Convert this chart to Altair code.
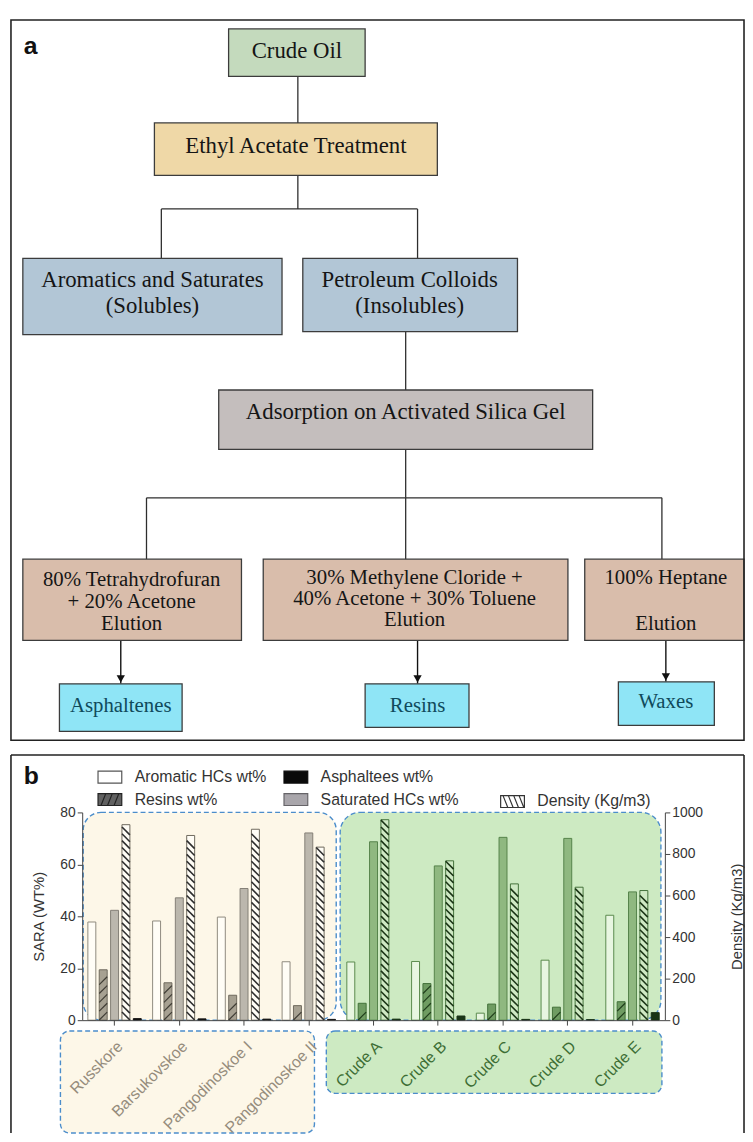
import altair as alt
import pandas as pd

# ======================= Panel a : flowchart =======================
box_kind = ["start", "treat", "fraction", "fraction", "adsorb", "eluent", "eluent", "eluent",
            "product", "product", "product"]
box_x1 = [230, 155, 22, 305, 220, 22, 265, 590, 59, 368, 624]
box_x2 = [368, 441, 284, 522, 598, 243, 573, 751, 183, 473, 721]
box_y1 = [22, 117, 254, 254, 387, 558, 558, 558, 684, 684, 682]
box_y2 = [70, 170, 331, 328, 447, 640, 640, 640, 732, 728, 726]
kind_order = ["start", "treat", "fraction", "adsorb", "eluent", "product"]
kind_colors = ["#c4dabd", "#efd8a7", "#b2c6d6", "#c4bebd", "#d9bdab", "#8fe5f6"]

big_text = ["Crude Oil", "Ethyl Acetate Treatment", "Aromatics and Saturates", "(Solubles)",
            "Petroleum Colloids", "(Insolubles)", "Adsorption on Activated Silica Gel"]
big_x = [299, 298, 153, 153, 413, 413, 409]
big_y = [51, 147, 283, 309, 283, 309, 416]

small_text = ["80% Tetrahydrofuran", "+ 20% Acetone", "Elution",
              "30% Methylene Cloride +", "40% Acetone + 30% Toluene", "Elution",
              "100% Heptane", "Elution"]
small_x = [132, 132, 132, 418, 418, 418, 672, 672]
small_y = [585, 607, 630, 583, 604, 626, 583, 630]

product_text = ["Asphaltenes", "Resins", "Waxes"]
product_x = [121, 421, 672]
product_y = [712, 712, 708]

line_x1 = [300, 300, 162, 162, 421, 409, 409, 147, 147, 409, 668]
line_y1 = [70, 170, 204, 204, 204, 328, 447, 496, 496, 496, 496]
line_x2 = [300, 300, 421, 162, 421, 409, 409, 668, 147, 409, 668]
line_y2 = [117, 204, 204, 254, 254, 387, 496, 496, 558, 558, 558]

arrow_x = [121, 421, 672]
arrow_y1 = [640, 640, 640]
arrow_y2 = [684, 684, 682]

# ======================= Panel b : SARA bars =======================
crudes = ["Russkore", "Barsukovskoe", "Pangodinoskoe I", "Pangodinoskoe II",
          "Crude A", "Crude B", "Crude C", "Crude D", "Crude E"]
crude_group = ["L", "L", "L", "L", "R", "R", "R", "R", "R"]
aromatic = [37.8, 38.2, 39.7, 22.5, 22.4, 22.6, 2.7, 23.1, 40.4]
resins = [19.4, 14.4, 9.6, 5.6, 6.5, 14.1, 6.2, 5.0, 7.1]
saturated = [42.3, 47.1, 50.7, 72.1, 68.7, 59.4, 70.4, 70.0, 49.4]
asphaltenes = [0.6, 0.5, 0.4, 0.3, 0.4, 1.6, 0.3, 0.2, 2.9]
density = [941, 889, 919, 833, 965, 767, 656, 640, 624]

S_ARO = "Aromatic HCs wt%"
S_RES = "Resins wt%"
S_SAT = "Saturated HCs wt%"
S_ASP = "Asphaltees wt%"
S_DEN = "Density (Kg/m3)"
offset_order = [S_ARO, S_RES, S_SAT, S_DEN, S_ASP]

region_start = ["Russkore", "Crude A"]
region_end = ["Pangodinoskoe II", "Crude E"]
region_group = ["L", "R"]

# ----------------------------------------------------------------------------
one = pd.DataFrame({"k": [0]})

# ---------- chart a (its plot origin is aligned with panel b's plot origin) ----------
AX0 = 82            # page x of the shared plot origin
AW, AH = 669, 728
xa = alt.Scale(domain=[AX0, AX0 + AW], nice=False, zero=False)
ya = alt.Scale(domain=[13, 13 + AH], nice=False, zero=False, reverse=True)
serif = "Liberation Serif"

boxes_df = pd.DataFrame({"x1": box_x1, "x2": box_x2, "y1": box_y1, "y2": box_y2, "kind": box_kind})
boxes = alt.Chart(boxes_df).mark_rect(stroke="#3c3c3c", strokeWidth=1.3).encode(
    x=alt.X("x1:Q", scale=xa, axis=None), x2="x2:Q",
    y=alt.Y("y1:Q", scale=ya, axis=None), y2="y2:Q",
    fill=alt.Fill("kind:N", scale=alt.Scale(domain=kind_order, range=kind_colors), legend=None),
)

lines_df = pd.DataFrame({"x1": line_x1, "y1": line_y1, "x2": line_x2, "y2": line_y2})
lines = alt.Chart(lines_df).mark_rule(color="#2e2e2e", strokeWidth=1.3).encode(
    x=alt.X("x1:Q", scale=xa, axis=None), x2="x2:Q",
    y=alt.Y("y1:Q", scale=ya, axis=None), y2="y2:Q",
)

arrows_df = pd.DataFrame({"x": arrow_x, "y1": arrow_y1, "y2": arrow_y2})
arrow_lines = alt.Chart(arrows_df).mark_rule(color="#111", strokeWidth=1.4).encode(
    x=alt.X("x:Q", scale=xa, axis=None),
    y=alt.Y("y1:Q", scale=ya, axis=None), y2="y2:Q",
)
arrow_heads = alt.Chart(arrows_df).mark_point(
    shape="triangle-down", filled=True, size=70, color="#111", opacity=1, yOffset=-5
).encode(
    x=alt.X("x:Q", scale=xa, axis=None),
    y=alt.Y("y2:Q", scale=ya, axis=None),
)


def text_layer(texts, xs, ys, size, color):
    df = pd.DataFrame({"t": texts, "x": xs, "y": ys})
    return alt.Chart(df).mark_text(
        font=serif, fontSize=size, color=color, align="center", baseline="alphabetic"
    ).encode(
        x=alt.X("x:Q", scale=xa, axis=None),
        y=alt.Y("y:Q", scale=ya, axis=None),
        text="t:N",
    )


frame_a = alt.Chart(one).mark_rect(fillOpacity=0, stroke="#222", strokeWidth=1.6).encode(
    x=alt.value(-72), x2=alt.value(AW), y=alt.value(0), y2=alt.value(AH)
)
label_a = alt.Chart(one).mark_text(
    text="a", font="Liberation Sans", fontSize=25, fontWeight="bold", align="left",
    baseline="alphabetic", color="#111"
).encode(x=alt.value(-59), y=alt.value(34))

chart_a = alt.layer(
    lines, arrow_lines, arrow_heads, boxes,
    text_layer(big_text, big_x, big_y, 23, "#151515"),
    text_layer(small_text, small_x, small_y, 21, "#151515"),
    text_layer(product_text, product_x, product_y, 21, "#0f4a5b"),
    frame_a, label_a,
).properties(width=AW, height=AH)

# ---------- chart b ----------
W, H = 589, 210

rows = []
for i, c in enumerate(crudes):
    for s, vals in [(S_ARO, aromatic), (S_RES, resins), (S_SAT, saturated), (S_ASP, asphaltenes)]:
        rows.append({"crude": c, "grp": crude_group[i], "series": s, "value": vals[i],
                     "key": s + "|" + crude_group[i]})
sara_df = pd.DataFrame(rows)
dens_df = pd.DataFrame({"crude": crudes, "grp": crude_group, "series": [S_DEN] * len(crudes),
                        "value": density, "key": [S_DEN + "|" + g for g in crude_group]})
reg_df = pd.DataFrame({"start": region_start, "end": region_end, "grp": region_group})

key_domain = [f"{s}|{g}" for g in ("L", "R") for s in offset_order]
fill_range = ["#fffdf6", "#a7a192", "#bbb7ad", "#fffdf6", "#141414",
              "#e8f6e1", "#6f9c62", "#8fb880", "#cfe9c4", "#183416"]
stroke_range = ["#8f8a7e", "#6e695d", "#848076", "#6e695d", "#141414",
                "#5a8a4d", "#43703a", "#55834a", "#43703a", "#183416"]

green_test = "indexof(['Crude A','Crude B','Crude C','Crude D','Crude E'], datum.value) >= 0"
x_scale = alt.Scale(domain=crudes, paddingInner=0, paddingOuter=0)
x_axis = alt.Axis(
    title=None, labelAngle=-45, labelFontSize=16, labelFont="Liberation Sans",
    labelColor={"condition": {"test": green_test, "value": "#3d6e35"}, "value": "#958c7c"},
    tickSize=5, tickColor="#444", domainColor="#444", labelPadding=13, labelLimit=220, zindex=1,
)
xo = alt.XOffset("series:N", scale=alt.Scale(domain=offset_order, paddingInner=0.3, paddingOuter=0.5))


def X():
    return alt.X("crude:N", scale=x_scale, axis=x_axis)


y_sara = alt.Scale(domain=[0, 80], nice=False)
y_dens = alt.Scale(domain=[0, 1000], nice=False)
y_left = alt.Axis(
    title="SARA (WT%)", values=[0, 20, 40, 60, 80], grid=False, tickSize=5, tickColor="#444",
    domainColor="#444", labelFontSize=14, labelColor="#333", titleFontSize=15,
    titleFontWeight="normal", titleColor="#333", titlePadding=14, zindex=1,
)
y_right = alt.Axis(
    orient="right", title="Density (Kg/m3)", values=[0, 200, 400, 600, 800, 1000], format="d",
    grid=False, tickSize=5, tickColor="#444", domainColor="#444", labelFontSize=14,
    labelColor="#333", titleFontSize=15, titleFontWeight="normal", titleColor="#333",
    titleAngle=270, titlePadding=42, zindex=1,
)

# frame of panel b (bottom edge is cut off by the page)
frame_top = alt.Chart(one).mark_rule(color="#222", strokeWidth=1.6).encode(
    x=alt.value(-72), x2=alt.value(669), y=alt.value(-58))
frame_left = alt.Chart(one).mark_rule(color="#222", strokeWidth=1.6).encode(
    x=alt.value(-72), y=alt.value(-58), y2=alt.value(324))
frame_right = alt.Chart(one).mark_rule(color="#222", strokeWidth=1.6).encode(
    x=alt.value(669), y=alt.value(-58), y2=alt.value(324))
label_b = alt.Chart(one).mark_text(
    text="b", font="Liberation Sans", fontSize=25, fontWeight="bold", align="left",
    baseline="alphabetic", color="#111"
).encode(x=alt.value(-59), y=alt.value(-29))

DASH = dict(stroke="#4b8dcb", strokeDash=[5, 3], strokeWidth=1.4)


def region(grp, fill, xo_, x2o_, radius, y_top=None, y_bot=None):
    base = alt.Chart(reg_df).transform_filter(alt.datum.grp == grp).mark_rect(
        fill=fill, cornerRadius=radius, xOffset=xo_, x2Offset=x2o_, **DASH)
    enc = dict(
        x=alt.X("start:N", scale=x_scale, axis=x_axis, bandPosition=0),
        x2=alt.X2("end:N", bandPosition=1),
    )
    if y_top is None:
        enc["y"] = alt.Y(datum=80, scale=y_sara, axis=y_left)
        enc["y2"] = alt.Y2(datum=0)
    else:
        enc["y"] = alt.value(y_top)
        enc["y2"] = alt.value(y_bot)
    return base.encode(**enc)


reg_plot_L = region("L", "#fdf7e8", 1, -5, 18)
reg_plot_R = region("R", "#cdeac2", -1, -4, 20)
reg_lab_L = region("L", "#fdf7e8", -22, -27, 9, H + 11, H + 114)
reg_lab_R = region("R", "#cdeac2", -15, -3, 9, H + 11, H + 74)

sara_bars = alt.Chart(sara_df).mark_bar(strokeWidth=1).encode(
    x=X(), xOffset=xo,
    y=alt.Y("value:Q", scale=y_sara, axis=y_left),
    fill=alt.Fill("key:N", scale=alt.Scale(domain=key_domain, range=fill_range), legend=None),
    stroke=alt.Stroke("key:N", scale=alt.Scale(domain=key_domain, range=stroke_range), legend=None),
)

resin_hatch = alt.Chart(sara_df).transform_filter(alt.datum.series == S_RES).transform_calculate(
    hy="sequence(1.6, datum.value - 1.5, 3.4)"
).transform_flatten(["hy"]).mark_point(
    shape="M-1,1L1,-1", size=64, filled=False, strokeWidth=1.2, opacity=1
).encode(
    x=X(), xOffset=xo,
    y=alt.Y("hy:Q", scale=y_sara, axis=y_left),
    stroke=alt.Stroke("grp:N", scale=alt.Scale(domain=["L", "R"], range=["#3f3c34", "#1f3d1a"]),
                      legend=None),
)

dens_bars = alt.Chart(dens_df).mark_bar(strokeWidth=1).encode(
    x=X(), xOffset=xo,
    y=alt.Y("value:Q", scale=y_dens, axis=y_right),
    fill=alt.Fill("key:N", scale=alt.Scale(domain=key_domain, range=fill_range), legend=None),
    stroke=alt.Stroke("key:N", scale=alt.Scale(domain=key_domain, range=stroke_range), legend=None),
)

dens_hatch = alt.Chart(dens_df).transform_calculate(
    hy="sequence(20, datum.value - 19, 33)"
).transform_flatten(["hy"]).mark_point(
    shape="M-1,-1L1,1", size=64, filled=False, strokeWidth=1.6, opacity=1
).encode(
    x=X(), xOffset=xo,
    y=alt.Y("hy:Q", scale=y_dens, axis=y_right),
    stroke=alt.Stroke("grp:N", scale=alt.Scale(domain=["L", "R"], range=["#2e2e2e", "#1b3516"]),
                      legend=None),
)

# ---------- legends ----------
RECT = "M-1,-0.5H1V0.5H-1Z"
legA_series = [S_ARO, S_RES, S_ASP, S_SAT]
legA_fill = ["#ffffff", "#616161", "#0a0a0a", "#a9a6ab"]
legA_stroke = ["#555555", "#222222", "#0a0a0a", "#666468"]
legA_shape = [RECT, RECT + "M-0.75,0.5L-0.35,-0.5M-0.2,0.5L0.2,-0.5M0.35,0.5L0.75,-0.5", RECT, RECT]
legB_series = [S_DEN]
legB_fill = ["#ffffff"]
legB_stroke = ["#333333"]
legB_shape = [RECT + "M-0.8,-0.5L-0.4,0.5M-0.35,-0.5L0.05,0.5M0.1,-0.5L0.5,0.5M0.55,-0.5L0.95,0.5"]


def mk_legend(lx, ly, cols):
    return alt.Legend(
        title=None, orient="none", legendX=lx, legendY=ly, columns=cols, columnPadding=14,
        rowPadding=1, symbolSize=576, symbolStrokeWidth=1.2, symbolOpacity=1, labelFontSize=16,
        labelFont="Liberation Sans", labelColor="#333", labelOffset=12, labelLimit=300,
    )


def legend_layer(series, fills, strokes, shapes, lx, ly, cols):
    lg = mk_legend(lx, ly, cols)
    return alt.Chart(pd.DataFrame({"series": series})).transform_filter("false").mark_point(
        filled=True, size=576, opacity=1
    ).encode(
        fill=alt.Fill("series:N", scale=alt.Scale(domain=series, range=fills), legend=lg),
        stroke=alt.Stroke("series:N", scale=alt.Scale(domain=series, range=strokes), legend=lg),
        shape=alt.Shape("series:N", scale=alt.Scale(domain=series, range=shapes), legend=lg),
    )


legA = legend_layer(legA_series, legA_fill, legA_stroke, legA_shape, 15, -49, 2)
legB = legend_layer(legB_series, legB_fill, legB_stroke, legB_shape, 422, -24, 1)

inner_sara = alt.layer(
    frame_top, frame_left, frame_right, label_b,
    reg_lab_L, reg_lab_R, reg_plot_L, reg_plot_R,
    sara_bars, resin_hatch, legA,
).resolve_scale(fill="independent", stroke="independent", shape="independent")

inner_dens = alt.layer(dens_bars, dens_hatch, legB).resolve_scale(
    fill="independent", stroke="independent", shape="independent")

chart_b = alt.layer(inner_sara, inner_dens).resolve_scale(
    y="independent", fill="independent", stroke="independent", shape="independent"
).properties(width=W, height=H)

chart = alt.vconcat(chart_a, chart_b, spacing=13).properties(
    padding={"left": 2, "top": 5, "right": 0, "bottom": 0}
).configure(font="Liberation Sans").configure_view(strokeWidth=0)

chart.save("out.html", embed_options={"renderer": "svg", "actions": False})
